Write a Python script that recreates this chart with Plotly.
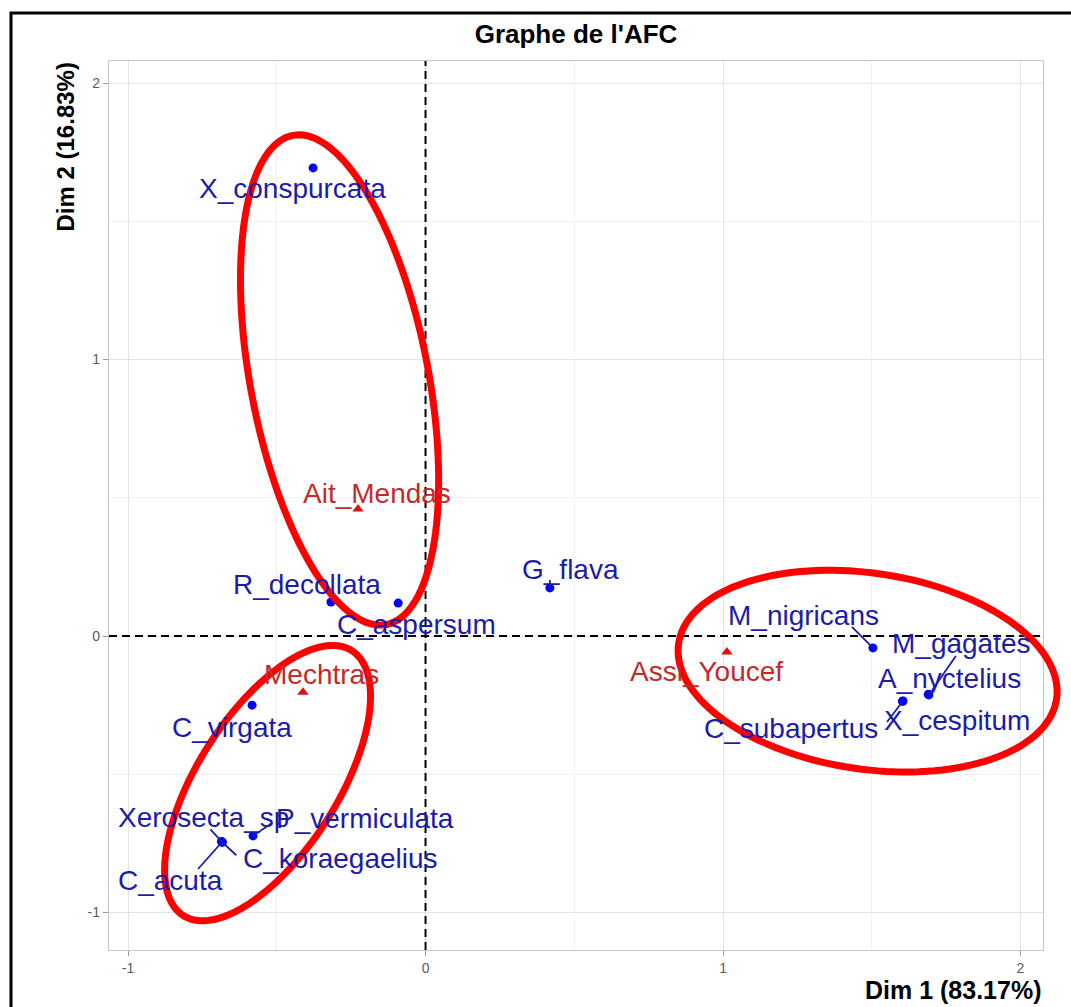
import numpy as np
import plotly.graph_objects as go

# ---------------- data ----------------
species = ["X_conspurcata", "R_decollata", "C_aspersum", "G_flava", "C_virgata",
           "Xerosecta_sp", "P_vermiculata", "C_koraegaelius", "C_acuta",
           "M_nigricans", "M_gagates", "A_nyctelius", "X_cespitum", "C_subapertus"]
species_dim1 = [-0.378, -0.318, -0.092, 0.418, -0.583,
                -0.686, -0.580, -0.683, -0.684,
                1.504, 1.692, 1.690, 1.605, 1.603]
species_dim2 = [1.693, 0.123, 0.119, 0.174, -0.250,
                -0.743, -0.723, -0.746, -0.745,
                -0.043, -0.213, -0.211, -0.235, -0.236]

sites = ["Ait_Mendas", "Mechtras", "Assi_Youcef"]
sites_dim1 = [-0.227, -0.412, 1.013]
sites_dim2 = [0.459, -0.203, -0.058]

x_ticks = [-1, 0, 1, 2]
y_ticks = [-1, 0, 1, 2]
title_text = "Graphe de l'AFC"
x_title = "Dim 1 (83.17%)"
y_title = "Dim 2 (16.83%)"

# ---------------- layout constants ----------------
W, H = 1071, 1007
ML, MR, MT, MB = 109, 28, 61, 57
PW, PH = W - ML - MR, H - MT - MB
XR = [-1.064, 2.0756]
YR = [-1.1356, 2.0796]
PX_X = PW / (XR[1] - XR[0])
PX_Y = PH / (YR[1] - YR[0])

# label offsets in pixels (label centre relative to its point)
label_offsets = {
    "X_conspurcata": (-21, 21),
    "R_decollata": (-24, -18),
    "C_aspersum": (18, 21),
    "G_flava": (21, -18),
    "C_virgata": (-20, 22),
    "Xerosecta_sp": (-18, -24),
    "P_vermiculata": (112, -17),
    "C_koraegaelius": (118, 16),
    "C_acuta": (-52, 38),
    "M_nigricans": (-69, -32),
    "M_gagates": (33, -51),
    "A_nyctelius": (21, -16),
    "X_cespitum": (54, 20),
    "C_subapertus": (-111, 27),
    "Ait_Mendas": (19, -16),
    "Mechtras": (19, -18),
    "Assi_Youcef": (-20, 19),
}
# repel segments: end offset in pixels from the point toward the label box
segment_ends = {
    "Xerosecta_sp": (-11, -12),
    "C_koraegaelius": (14, 13),
    "C_acuta": (-24, 27),
    "P_vermiculata": (19, -13),
    "M_nigricans": (-21, -21),
    "M_gagates": (27, -39),
    "X_cespitum": (-16, 21),
    "G_flava": (0, -8),
}

BLUE_PT = "#0000FF"
BLUE_TXT = "#1c1caa"
RED_PT = "#DD1111"
RED_TXT = "#C42a2a"
FONT = "Liberation Sans, Arial, sans-serif"

fig = go.Figure()

fig.add_trace(go.Scatter(
    x=species_dim1, y=species_dim2, mode="markers",
    marker=dict(color=BLUE_PT, size=9, symbol="circle"),
    hovertext=species, showlegend=False))
fig.add_trace(go.Scatter(
    x=sites_dim1, y=sites_dim2, mode="markers",
    marker=dict(color=RED_PT, size=10, symbol="triangle-up"),
    hovertext=sites, showlegend=False))

annotations = []
shapes = []

def add_labels(names, xs, ys, txtcol):
    for n, xv, yv in zip(names, xs, ys):
        ax, ay = label_offsets[n]
        annotations.append(dict(
            x=xv, y=yv, xref="x", yref="y", text=n, showarrow=True,
            ax=ax, ay=ay, arrowhead=0, arrowwidth=0.1,
            arrowcolor="rgba(0,0,0,0)",
            font=dict(family=FONT, size=28, color=txtcol),
            borderpad=0))
        if n in segment_ends:
            ex, ey = segment_ends[n]
            shapes.append(dict(type="line", xref="x", yref="y",
                               x0=xv, y0=yv, x1=xv + ex / PX_X, y1=yv - ey / PX_Y,
                               line=dict(color=txtcol, width=1.8), layer="above"))

add_labels(species, species_dim1, species_dim2, BLUE_TXT)
add_labels(sites, sites_dim1, sites_dim2, RED_TXT)

# axis titles
annotations.append(dict(text="<b>" + x_title + "</b>", xref="paper", yref="paper",
                        x=1.0, y=(-40) / PH, xanchor="right", yanchor="middle",
                        showarrow=False, font=dict(family=FONT, size=25, color="black")))
annotations.append(dict(text="<b>" + y_title + "</b>", xref="paper", yref="paper",
                        x=(65 - ML) / PW, y=1.0, xanchor="center", yanchor="top",
                        textangle=-90, showarrow=False,
                        font=dict(family=FONT, size=24, color="black")))

# dashed reference lines
shapes.append(dict(type="line", xref="x", yref="paper", x0=0, x1=0, y0=0, y1=1,
                   line=dict(color="black", width=2, dash="8px,5px"), layer="above"))
shapes.append(dict(type="line", xref="paper", yref="y", x0=0, x1=1, y0=0, y1=0,
                   line=dict(color="black", width=2, dash="8px,5px"), layer="above"))

# hand-drawn red ellipses (centre in data units, semi-axes in px, screen angle in degrees)
# drawn in paper coordinates so they are not clipped by the plotting panel
ellipse_centres = [(-0.289, 0.926), (-0.531, -0.532), (1.486, -0.127)]
ellipse_axes = [(249, 89), (157, 70), (191, 98)]
ellipse_angles = [79.2, 122.5, 8.35]
t = np.linspace(0, 2 * np.pi, 145)
for (cx, cy), (a, b), ang in zip(ellipse_centres, ellipse_axes, ellipse_angles):
    phi = np.deg2rad(ang)
    dx, dy = np.cos(phi), np.sin(phi)
    u, v = a * np.cos(t), b * np.sin(t)
    sx = u * dx - v * dy
    sy = u * dy + v * dx
    xs = cx + sx / PX_X
    ys = cy - sy / PX_Y
    pxs = (xs - XR[0]) / (XR[1] - XR[0])
    pys = (ys - YR[0]) / (YR[1] - YR[0])
    path = "M " + " L ".join(f"{x:.5f},{y:.5f}" for x, y in zip(pxs, pys)) + " Z"
    shapes.append(dict(type="path", xref="paper", yref="paper", path=path,
                       line=dict(color="#FF0000", width=7), layer="above"))

# black frame around the image
shapes.append(dict(type="rect", xref="paper", yref="paper",
                   x0=(11 - ML) / PW, x1=1.2, y0=-0.2, y1=(PH + MT - 13) / PH,
                   line=dict(color="black", width=3), layer="above"))

axis_common = dict(
    showgrid=True, gridcolor="#e3e3e3", gridwidth=1.2,
    zeroline=False, showline=True, linecolor="#c4c4c4", linewidth=1.3, mirror=True,
    ticks="outside", ticklen=5, tickcolor="#9a9a9a", tickwidth=1,
    tickfont=dict(family=FONT, size=14, color="#5a5a5a"),
    minor=dict(dtick=0.5, showgrid=True, gridcolor="#f1f1f1", gridwidth=1, ticks=""),
)

fig.update_layout(
    width=W, height=H,
    margin=dict(l=ML, r=MR, t=MT, b=MB),
    paper_bgcolor="white", plot_bgcolor="white",
    title=dict(text="<b>" + title_text + "</b>", x=0.5, xref="paper",
               y=1 - 34 / H, yref="container", yanchor="middle", xanchor="center",
               font=dict(family=FONT, size=26, color="black")),
    xaxis=dict(range=XR, tickvals=x_ticks, ticktext=[str(v) for v in x_ticks], **axis_common),
    yaxis=dict(range=YR, tickvals=y_ticks, ticktext=[str(v) for v in y_ticks], **axis_common),
    annotations=annotations, shapes=shapes, showlegend=False,
)

fig.write_html("out.html")
